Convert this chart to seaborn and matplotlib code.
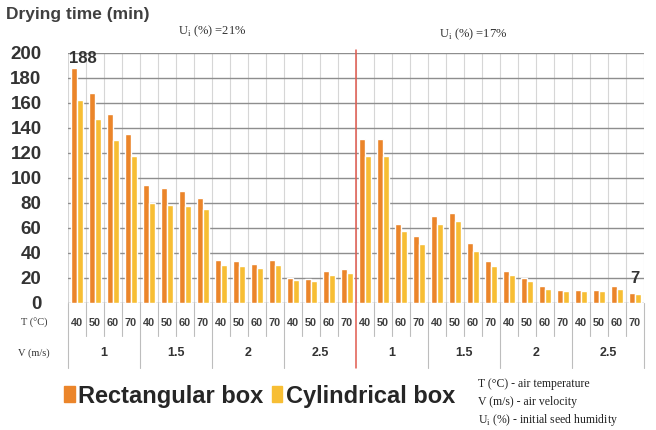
import numpy as np
import pandas as pd
import matplotlib.pyplot as plt
import matplotlib.transforms as mtransforms
import seaborn as sns

#------------------------------------------------
temps=['40','50','60','70']
vels=['1','1.5','2','2.5']
moist=['21%','17%']
boxes=['Rectangular box','Cylindrical box']

rect=[188,168,151,135, 94,92,89,84, 34,33,31,34, 20,19,25,27,
      131,131,63,53, 69,72,48,33, 25,20,13,10, 10,10,13,8]
cyl=[162,147,130,117, 80,78,77,75, 30,29,28,30, 18,17,22,24,
     117,117,57,47, 63,65,41,29, 22,17,11,9, 9,9,11,7]

colors=['#EB852A','#F7BE34']

#########################################################
sns.set_style('white')
plt.rcParams['font.family']=['Liberation Sans','DejaVu Sans']
serif=['Liberation Serif','DejaVu Serif']

#long table
n=len(rect)
df=pd.DataFrame({'grp':list(range(n))*2,
                 'time':rect+cyl,
                 'box':[boxes[0]]*n+[boxes[1]]*n})

fig=plt.figure(figsize=(6.56,4.3), dpi=100)
ax=fig.add_axes([68/656, 1-302.7/430, 576/656, 250/430])

sns.barplot(data=df, x='grp', y='time', hue='box', hue_order=boxes,
            order=list(range(n)), palette=colors, width=0.62, saturation=1,
            ax=ax, zorder=3)

#axes
ax.set_ylim(0,200)
ax.set_yticks(range(0,201,20))
ax.set_xlim(-0.5, n-0.5)
ax.set_xticks([])
ax.set_xticks(np.arange(-0.5, n, 1), minor=True)
ax.grid(axis='y', color='#8E8E8E', lw=1.0, zorder=0)
ax.grid(axis='x', which='minor', color='#D6D6D6', lw=0.8, zorder=0)
ax.tick_params(axis='y', length=0, pad=19, labelsize=13.5, labelcolor='#333333')
ax.tick_params(axis='x', which='both', length=0)
for t in ax.get_yticklabels(): t.set_fontweight('bold')
ax.set_xlabel(''); ax.set_ylabel('')
for s in ax.spines.values(): s.set_visible(False)

#category table below axis
tr=mtransforms.blended_transform_factory(ax.transData, ax.transAxes)
y_t=(302.7-323)/250
y_v=(302.7-353)/250
y_s=(302.7-336)/250
y_l=(302.7-368)/250
for i in range(n):
    ax.text(i, y_t, temps[i%4], transform=tr, ha='center', va='center',
            fontsize=7.8, fontweight='bold', color='#404040')
for j in range(n//4):
    ax.text(j*4+1.5, y_v, vels[j%4], transform=tr, ha='center', va='center',
            fontsize=9, fontweight='bold', color='#333333')
for b in np.arange(-0.5, n, 1):
    if b==n/2-0.5:
        continue
    y0=y_l if (b+0.5)%4==0 else y_s
    ax.plot([b,b],[0,y0], transform=tr, color='#BDBDBD', lw=0.8, clip_on=False)

#moisture divider
ax.plot([n/2-0.5]*2, [1.01, y_l], transform=tr, color='#E05A4E', lw=1.1,
        clip_on=False, zorder=5)

#value labels
ax.annotate(str(rect[0]), (0.3, rect[0]), xytext=(0,1), textcoords='offset points',
            ha='center', va='bottom', fontsize=12, fontweight='bold', color='#333333')
ax.annotate(str(cyl[-1]), (31, rect[-1]), xytext=(0,5), textcoords='offset points',
            ha='center', va='bottom', fontsize=12, fontweight='bold', color='#333333')

#moisture annotation
ax.text(7.5, 1.085, 'U$_\\mathregular{i}$ (%) ='+moist[0], transform=tr, ha='center',
        va='center', fontsize=9, family=serif, color='#333333')
ax.text(22.0, 1.075, 'U$_\\mathregular{i}$ (%) ='+moist[1], transform=tr, ha='center',
        va='center', fontsize=9, family=serif, color='#333333')

#titles
fig.text(6/656, 1-15/430, 'Drying time (min)', ha='left', va='center',
         fontsize=12.5, fontweight='bold', color='#404040')
fig.text(34/656, 1-323/430, 'T (°C)', ha='center', va='center', fontsize=7.5,
         family=serif, color='#333333')
fig.text(34/656, 1-353/430, 'V (m/s)', ha='center', va='center', fontsize=7.5,
         family=serif, color='#333333')

#legend
ax.get_legend().remove()
h=[plt.Rectangle((0,0),1,1, color=c) for c in colors]
fig.legend(h, boxes, loc='center left', bbox_to_anchor=(64/656, 1-396/430),
           frameon=False, ncol=2, handlelength=0.45, handleheight=0.65,
           handletextpad=0.15, columnspacing=0.35, borderpad=0, borderaxespad=0,
           prop={'weight':'bold','size':17})

#notes
notes=['T (°C) - air temperature','V (m/s) - air velocity',
       'U$_\\mathregular{i}$ (%) - initial seed humidity']
for k,s in enumerate(notes):
    fig.text(478/656, 1-(384+18*k)/430, s, ha='left', va='center', fontsize=8.5,
             family=serif, color='#222222')

plt.savefig('out.png', dpi=100)
plt.close()
